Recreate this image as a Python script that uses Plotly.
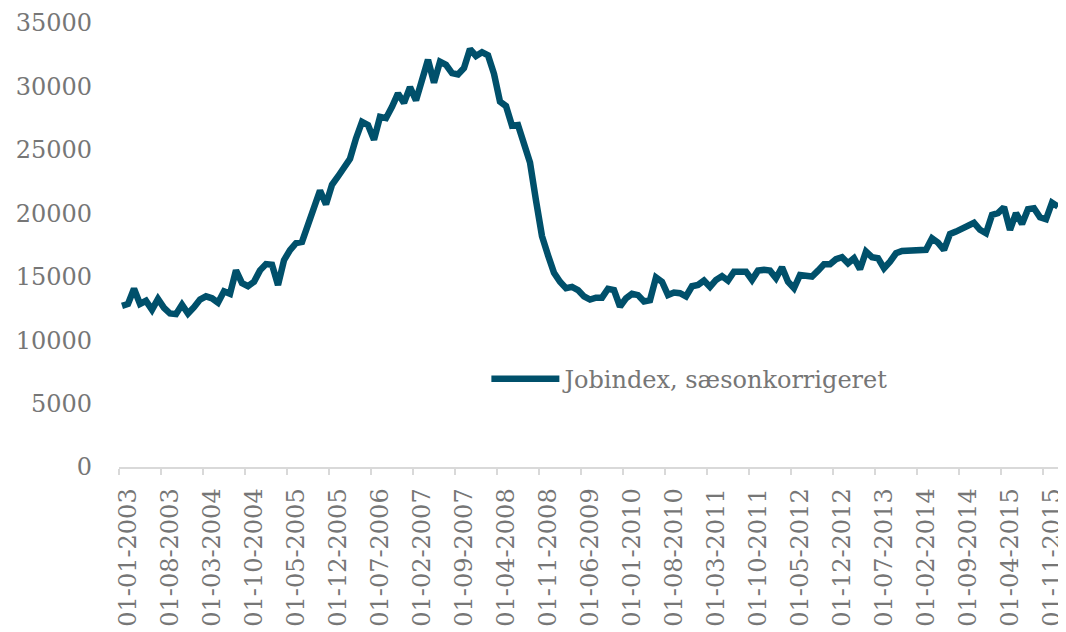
import pandas as pd
import plotly.graph_objects as go

# Monthly dates (first of month), Jan 2003 .. Jan 2016
dates = pd.date_range("2003-01-01", periods=157, freq="MS")

jobindex = [
    12700, 12850, 14050, 12850, 13100, 12400, 13250, 12550, 12100, 12050,
    12800, 12100, 12600, 13200, 13450, 13300, 12950, 13850, 13650, 15500,
    14500, 14250, 14600, 15500, 16000, 15950, 14350, 16300, 17100, 17650,
    17750, 19000, 20300, 21800, 20700, 22250, 22900, 23500, 24300, 25900,
    27200, 26950, 25800, 27600, 27500, 28400, 29450, 28700, 29950, 28900,
    30300, 32100, 30300, 31950, 31700, 31050, 30950, 31450, 32950, 32400,
    32700, 32450, 31000, 28800, 28450, 26900, 26950, 25500, 24000, 21000,
    18200, 16700, 15300, 14600, 14100, 14200, 13950, 13450, 13200, 13350,
    13350, 14050, 13950, 12650, 13300, 13650, 13550, 13050, 13150, 14950,
    14600, 13550, 13750, 13700, 13450, 14250, 14350, 14700, 14200, 14750,
    15050, 14700, 15400, 15400, 15400, 14750, 15480, 15540, 15480, 14880,
    15750, 14610, 14090, 15140, 15010, 15010, 15480, 15980, 15980, 16380,
    16540, 16060, 16460, 15590, 16980, 16540, 16460, 15670, 16190, 16850,
    17030, 17060, 17080, 17100, 17120, 18030, 17690, 17110, 18370, 18560,
    18820, 19100, 19250, 18700, 18430, 19870, 20010, 20480, 18690, 20010,
    19160, 20320, 20400, 19690, 19530, 20840, 20530,
]

tick_labels = [
    "01-01-2003", "01-08-2003", "01-03-2004", "01-10-2004", "01-05-2005",
    "01-12-2005", "01-07-2006", "01-02-2007", "01-09-2007", "01-04-2008",
    "01-11-2008", "01-06-2009", "01-01-2010", "01-08-2010", "01-03-2011",
    "01-10-2011", "01-05-2012", "01-12-2012", "01-07-2013", "01-02-2014",
    "01-09-2014", "01-04-2015", "01-11-2015",
]

y_ticks = [0, 5000, 10000, 15000, 20000, 25000, 30000, 35000]

series_name = "Jobindex, sæsonkorrigeret"

# category positions
x_idx = list(range(len(dates)))
date_strs = [d.strftime("%d-%m-%Y") for d in dates]
label_pos = [date_strs.index(t) for t in tick_labels]
boundary_pos = [p - 0.5 for p in label_pos]
label_shift = [p + 1.0 for p in label_pos]

FONT = "DejaVu Serif"
GREY = "#767676"
LINE = "#00506b"
FS = 24

fig = go.Figure()
fig.add_trace(go.Scatter(
    x=x_idx, y=jobindex, mode="lines", name=series_name,
    line=dict(color=LINE, width=6.5),
    showlegend=True,
))

# the page body has an 8px margin, so the figure is sized/offset to fill the window
fig.update_layout(
    width=1058, height=624,
    margin=dict(l=111, r=0, t=15, b=165, pad=0),
    paper_bgcolor="white", plot_bgcolor="white",
    font=dict(family=FONT, size=FS, color=GREY),
    showlegend=True,
    legend=dict(
        x=0.390, y=0.198, xanchor="left", yanchor="middle",
        bgcolor="rgba(0,0,0,0)", itemwidth=68,
        font=dict(family=FONT, size=FS, color=GREY),
    ),
    xaxis=dict(
        range=[-0.5, len(dates) - 0.5],
        tickmode="array", tickvals=label_shift, ticktext=tick_labels,
        tickangle=-90, ticks="", showgrid=False, zeroline=False,
        showline=True, linecolor="#d9d9d9", linewidth=1.5,
        ticklabelstandoff=10, ticklabeloverflow="allow",
        tickfont=dict(family=FONT, size=FS, color=GREY),
        minor=dict(tickmode="array", tickvals=boundary_pos, ticks="outside",
                   ticklen=6, tickwidth=1.5, tickcolor="#d9d9d9", showgrid=False),
    ),
    yaxis=dict(
        range=[0, 35000], tickmode="array", tickvals=y_ticks,
        ticktext=[str(v) for v in y_ticks],
        showgrid=False, zeroline=False, showline=False, ticks="",
        ticklabelstandoff=26,
        tickfont=dict(family=FONT, size=FS, color=GREY),
    ),
)

fig.write_html("out.html")
